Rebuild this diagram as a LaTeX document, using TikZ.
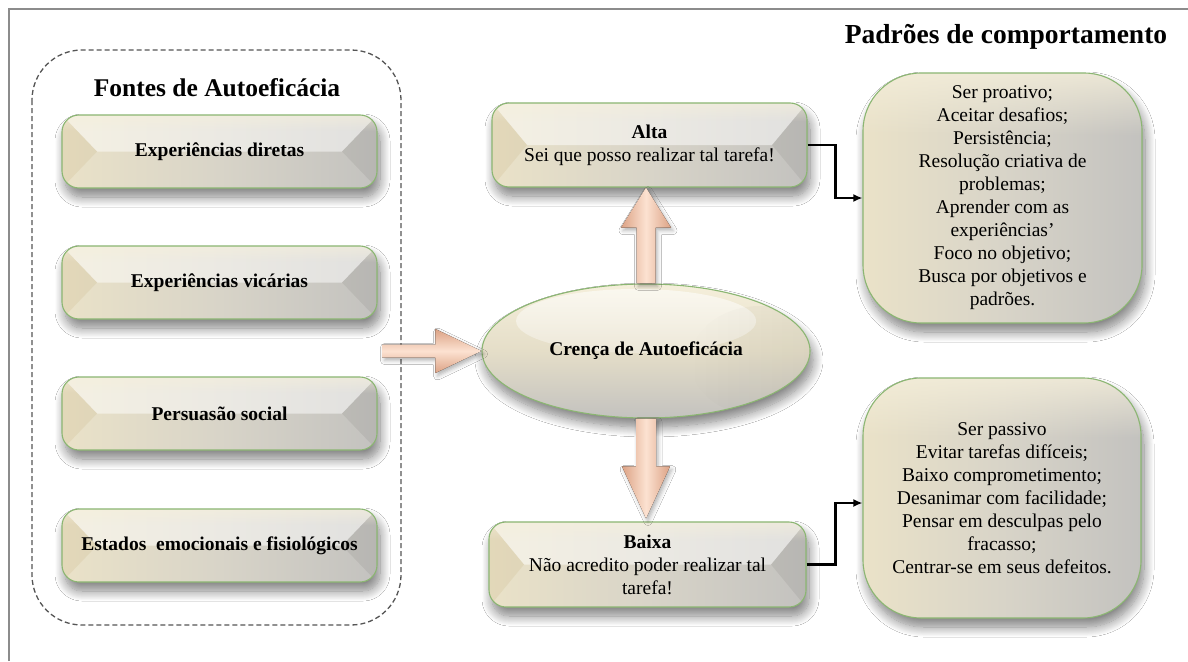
\documentclass[tikz,border=0pt]{standalone}
\usepackage{fontspec}
\setmainfont{Liberation Serif}
\usetikzlibrary{calc,shadows.blur,arrows.meta,shapes.geometric,fadings}

\definecolor{edgegreen}{HTML}{8BB672}
\definecolor{creamA}{HTML}{F5EFDB}
\definecolor{creamB}{HTML}{EAE2C8}
\definecolor{midA}{HTML}{D8D4C8}
\definecolor{greyA}{HTML}{C3C2BF}
\definecolor{tanA}{HTML}{D2C297}
\definecolor{peachL}{HTML}{FCE2D1}
\definecolor{peachD}{HTML}{DCA285}
\definecolor{framegrey}{HTML}{8C8C8C}
\definecolor{dashgrey}{HTML}{555555}

\tikzset{
  x=1pt, y=-1pt,
  every node/.style={font=\fontsize{19.5}{23}\selectfont},
  softshadow/.style={blur shadow={shadow xshift=3pt, shadow yshift=-9pt,
      shadow blur radius=10pt, shadow blur steps=14, shadow opacity=50}},
  titletext/.style={font=\fontsize{25.5}{30}\selectfont\bfseries},
  % bevelled glossy bar
  bevelbox/.style={rounded corners=17pt, draw=edgegreen, line width=1.1pt,
    left color=creamB, right color=greyA, middle color=midA,
    softshadow, align=center, inner sep=0pt,
    path picture={
      \coordinate (pnw) at (path picture bounding box.north west);
      \coordinate (pne) at (path picture bounding box.north east);
      \coordinate (psw) at (path picture bounding box.south west);
      \coordinate (pse) at (path picture bounding box.south east);
      \fill[draw=none, sharp corners, white, opacity=.5]
        (pnw) -- (pne) -- ($(pne)!.5!(pse)+(-35pt,0pt)$) -- ($(pnw)!.5!(psw)+(35pt,0pt)$) -- cycle;
      \fill[draw=none, sharp corners, tanA, opacity=.3]
        (pnw) -- ($(pnw)!.5!(psw)+(35pt,0pt)$) -- (psw) -- cycle;
      \fill[draw=none, sharp corners, black, opacity=.06]
        (pne) -- ($(pne)!.5!(pse)+(-35pt,0pt)$) -- (pse) -- cycle;
      \fill[draw=none, sharp corners, creamA, opacity=.6, path fading=south]
        (pnw) rectangle ($(pne)!.22!(pse)$);
    }},
  % large soft pad
  padbox/.style={rounded corners=58pt, draw=edgegreen, line width=1.1pt,
    left color=creamB, right color=greyA, middle color=midA,
    softshadow, align=center, inner sep=0pt,
    path picture={
      \coordinate (pnw) at (path picture bounding box.north west);
      \coordinate (pne) at (path picture bounding box.north east);
      \coordinate (pse) at (path picture bounding box.south east);
      \fill[draw=none, sharp corners, creamA, opacity=.8, path fading=south]
        (pnw) rectangle ($(pne)!.25!(pse)$);
    }},
  blockV/.style={left color=peachD, right color=peachD, middle color=peachL,
    draw=none, blur shadow={shadow xshift=2pt, shadow yshift=-3pt,
      shadow blur radius=4pt, shadow opacity=30}},
  blockH/.style={top color=peachD, bottom color=peachD, middle color=peachL,
    draw=none, blur shadow={shadow xshift=2pt, shadow yshift=-3pt,
      shadow blur radius=4pt, shadow opacity=30}},
  link/.style={line width=2.2pt, -{Latex[length=9pt,width=8pt]}},
}

\begin{document}
\begin{tikzpicture}
\useasboundingbox (0,0) rectangle (1188,661);
\fill[white] (0,0) rectangle (1188,661);

% outer frame (top and left edges)
\draw[framegrey, line width=1.6pt] (9,661) -- (9,9) -- (1188,9);

% sources of self-efficacy
\draw[dashgrey, line width=1.3pt, dash pattern=on 5pt off 3pt, rounded corners=50pt]
  (32,50) rectangle (401,625);
\node[titletext] (tleft) at (217,88) {Fontes de Autoeficácia};
\node[titletext, font=\fontsize{27.5}{32}\selectfont\bfseries] (tright) at (1006,37) {Padrões de comportamento};

\node[bevelbox, minimum width=315pt, minimum height=73pt] (s1) at (219.5,151.5) {\bfseries Experiências diretas};
\node[bevelbox, minimum width=315pt, minimum height=73pt] (s2) at (219.5,282.5) {\bfseries Experiências vicárias};
\node[bevelbox, minimum width=315pt, minimum height=73pt] (s3) at (219.5,413.5) {\bfseries Persuasão social};
\node[bevelbox, minimum width=315pt, minimum height=73pt] (s4) at (219.5,545.5) {\bfseries Estados\ \ emocionais e fisiológicos};

% high / low belief
\node[bevelbox, minimum width=315pt, minimum height=84pt] (alta) at (649.5,145)
  {\textbf{Alta}\\Sei que posso realizar tal tarefa!};
\node[bevelbox, minimum width=317pt, minimum height=85pt] (baixa) at (647.5,564.5)
  {\textbf{Baixa}\\Não acredito poder realizar tal\\tarefa!};

% behaviour patterns
\node[padbox, minimum width=279pt, minimum height=250pt] (pb1) at (1002.5,198)
  {Ser proativo;\\Aceitar desafios;\\Persistência;\\Resolução criativa de\\problemas;\\Aprender com as\\experiências’\\Foco no objetivo;\\Busca por objetivos e\\padrões.};
\node[padbox, minimum width=278pt, minimum height=240pt] (pb2) at (1002,498)
  {Ser passivo\\Evitar tarefas difíceis;\\Baixo comprometimento;\\Desanimar com facilidade;\\Pensar em desculpas pelo\\fracasso;\\Centrar-se em seus defeitos.};

% central belief
\node[ellipse, draw=edgegreen, line width=1.1pt, minimum width=328pt, minimum height=134pt,
  top color=creamA, bottom color=greyA, middle color=creamB!70!midA, softshadow,
  path picture={
    \fill[draw=none, white, opacity=.6, path fading=south]
      ($(path picture bounding box.center)+(-10pt,30pt)$) ellipse (120pt and 32pt);
    \fill[draw=none, black, opacity=.05, path fading=west]
      ($(path picture bounding box.east)+(-50pt,-10pt)$) ellipse (70pt and 55pt);
  }] (ell) at (646,351) {\bfseries Crença de Autoeficácia};

% block arrows
\coordinate (tailH) at ($(ell.west)+(-99pt,0pt)$);
\fill[blockH] ($(tailH)+(0pt,6.5pt)$) -- ($(ell.west)+(-46pt,6.5pt)$) -- ($(ell.west)+(-46pt,22pt)$)
  -- (ell.west) -- ($(ell.west)+(-46pt,-22pt)$) -- ($(ell.west)+(-46pt,-6.5pt)$)
  -- ($(tailH)+(0pt,-6.5pt)$) -- cycle;

\coordinate (tipU) at (ell.north |- alta.south);
\fill[blockV] ($(ell.north)+(-9.5pt,0pt)$) -- ($(tipU)+(-9.5pt,-40pt)$) -- ($(tipU)+(-25pt,-40pt)$)
  -- (tipU) -- ($(tipU)+(25pt,-40pt)$) -- ($(tipU)+(9.5pt,-40pt)$)
  -- ($(ell.north)+(9.5pt,0pt)$) -- cycle;

\coordinate (tipD) at ($(ell.south |- baixa.north)+(0pt,3pt)$);
\fill[blockV] ($(ell.south)+(-10pt,0pt)$) -- ($(tipD)+(-10pt,52pt)$) -- ($(tipD)+(-24pt,52pt)$)
  -- (tipD) -- ($(tipD)+(24pt,52pt)$) -- ($(tipD)+(10pt,52pt)$)
  -- ($(ell.south)+(10pt,0pt)$) -- cycle;

% links to the behaviour patterns
\draw[link] (alta.east) -- ++(28,0) |- (pb1.west);
\draw[link] (baixa.east) -- ++(29,0) |- ([yshift=-5pt]pb2.west);
\end{tikzpicture}
\end{document}
